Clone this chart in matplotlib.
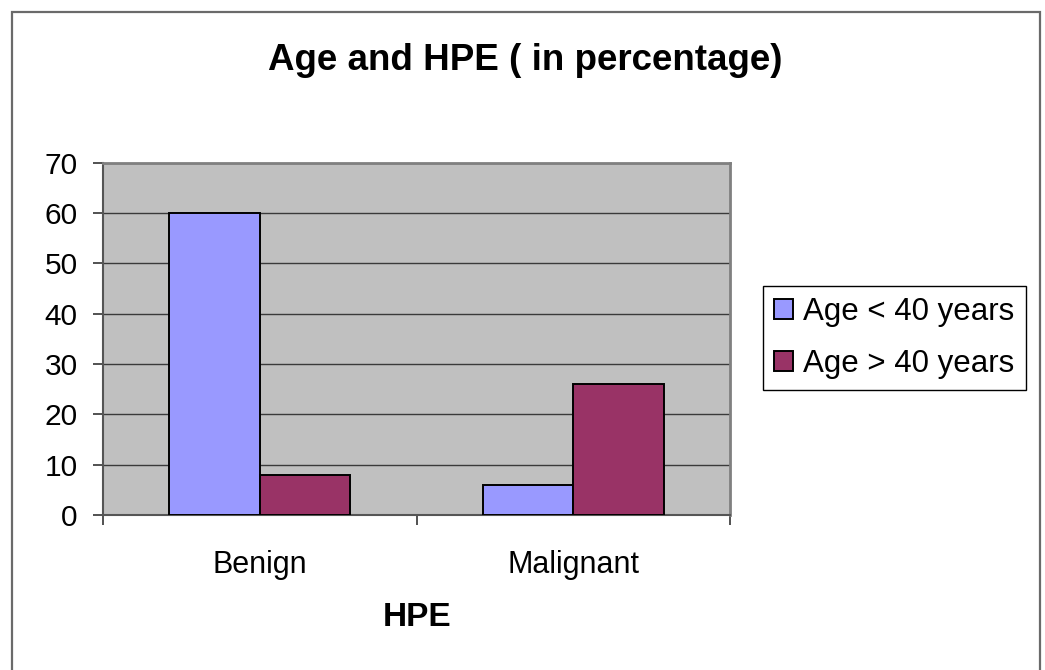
import numpy as np
import matplotlib.pyplot as plt
from matplotlib.patches import Rectangle

# data
categories = ['Benign', 'Malignant']
series_names = ['Age < 40 years', 'Age > 40 years']
young = [60, 6]
old = [8, 26]
colors = ['#9999FF', '#993366']

plt.rcParams['font.family'] = ['Liberation Sans', 'DejaVu Sans']

fig = plt.figure(figsize=(10.45, 6.70), dpi=100)
ax = fig.add_axes([103 / 1045, 1 - 515 / 670, 627 / 1045, 352.5 / 670])

# outer chart border (bottom edge is cut off in the original)
fig.patches.append(Rectangle((12 / 1045, -0.02), 1028 / 1045, 1 - 12 / 670 + 0.02,
                             transform=fig.transFigure, fill=False,
                             edgecolor='#6a6a6a', linewidth=1.6, zorder=0))

centers = np.arange(len(categories)) + 0.5
w = 0.288
ax.bar(centers - w / 2, young, width=w, color=colors[0], edgecolor='black',
       linewidth=1.4, label=series_names[0], zorder=3)
ax.bar(centers + w / 2, old, width=w, color=colors[1], edgecolor='black',
       linewidth=1.4, label=series_names[1], zorder=3)

ax.set_facecolor('#C0C0C0')
ax.set_xlim(0, 2)
ax.set_ylim(0, 70)
ax.set_yticks(range(0, 71, 10))
ax.yaxis.grid(True, color='#3a3a3a', linewidth=1.0, zorder=1)
ax.set_axisbelow(True)

# category labels between the tick marks
ax.set_xticks([0, 1, 2])
ax.set_xticklabels([])
ax.set_xticks(centers, minor=True)
ax.set_xticklabels(categories, minor=True)
ax.tick_params(axis='x', which='major', length=7.2, width=1.2, color='#333333', direction='out')
ax.tick_params(axis='x', which='minor', length=0, labelsize=22, pad=25)
ax.tick_params(axis='y', length=7.2, width=1.2, color='#333333', labelsize=21.5, pad=11)

for side in ['top', 'right']:
    ax.spines[side].set_color('#808080')
    ax.spines[side].set_linewidth(2)
for side in ['left', 'bottom']:
    ax.spines[side].set_color('#555555')
    ax.spines[side].set_linewidth(1.5)

fig.text(525 / 1045, 1 - 60 / 670, 'Age and HPE ( in percentage)', ha='center', va='center',
         fontsize=26.5, fontweight='bold')
fig.text(417 / 1045, 1 - 617 / 670, 'HPE', ha='center', va='center',
         fontsize=24, fontweight='bold')

leg = fig.legend(loc='upper left', bbox_to_anchor=(763 / 1045, 1 - 286 / 670),
                 fontsize=22.5, frameon=True, fancybox=False, framealpha=1,
                 edgecolor='black', handlelength=0.6, handleheight=0.6,
                 handletextpad=0.33, borderpad=0.36, labelspacing=0.7, borderaxespad=0)
leg.get_frame().set_linewidth(1.0)

fig.savefig('out.png', dpi=100)
